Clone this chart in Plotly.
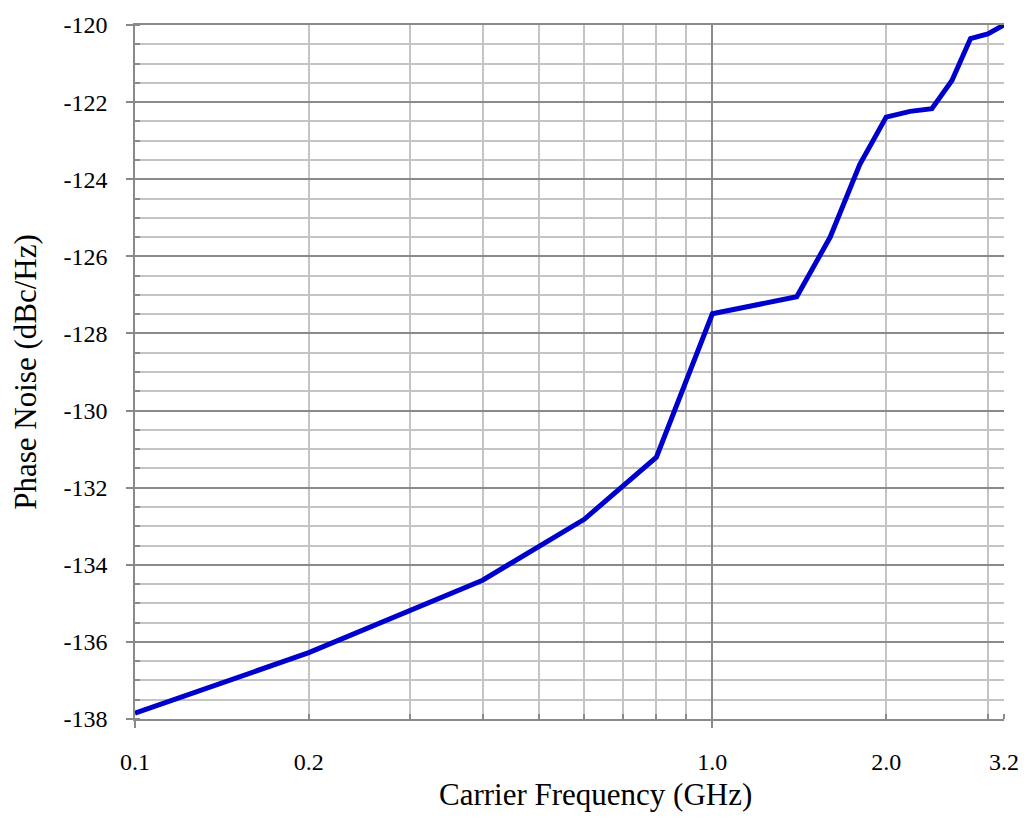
import math
import plotly.graph_objects as go

# Phase noise vs. carrier frequency
freq_ghz = [0.1, 0.2, 0.4, 0.6, 0.8, 1.0, 1.4, 1.6, 1.8, 2.0, 2.2, 2.4, 2.6, 2.8, 3.0, 3.2]
phase_noise = [-137.85, -136.28, -134.4, -132.82, -131.21, -127.49, -127.05, -125.5,
               -123.62, -122.39, -122.24, -122.17, -121.44, -120.35, -120.23, -120.0]

x_label_vals = [0.1, 0.2, 1.0, 2.0, 3.2]
x_label_text = ["0.1", "0.2", "1.0", "2.0", "3.2"]
x_minor_vals = [0.2, 0.3, 0.4, 0.5, 0.6, 0.7, 0.8, 0.9, 2.0, 3.0, 3.2]
y_tick_vals = [-138, -136, -134, -132, -130, -128, -126, -124, -122, -120]
y_tick_text = ["-138", "-136", "-134", "-132", "-130", "-128", "-126", "-124", "-122", "-120"]

FONT = "Liberation Serif, Times New Roman, serif"
DARK = "#8a8a8a"
LIGHT = "#c4c4c4"
x_range = [math.log10(0.1), math.log10(3.2)]

fig = go.Figure()
fig.add_trace(go.Scatter(
    x=freq_ghz, y=phase_noise, mode="lines",
    line=dict(color="#0000CC", width=5),
    showlegend=False, hoverinfo="x+y",
))
# carrier for the labelled overlay axis
fig.add_trace(go.Scatter(
    x=freq_ghz, y=phase_noise, mode="lines", xaxis="x2",
    line=dict(width=0), opacity=0, showlegend=False, hoverinfo="skip",
))

fig.update_layout(
    width=1031, height=823,
    margin=dict(l=135, r=25, t=23, b=104),
    paper_bgcolor="white", plot_bgcolor="white",
    font=dict(family=FONT, size=24, color="black"),
    xaxis=dict(
        type="log", range=x_range,
        tickvals=[0.1, 1.0], showticklabels=False,
        showgrid=True, gridcolor=DARK, gridwidth=1.5,
        ticks="outside", ticklen=7, tickcolor=DARK, tickwidth=1.5,
        showline=True, linecolor=DARK, linewidth=1.5, mirror=True,
        zeroline=False,
        minor=dict(tickvals=x_minor_vals, showgrid=True, gridcolor=LIGHT, gridwidth=1.5,
                   ticks="inside", ticklen=5, tickcolor=DARK, tickwidth=1.5),
    ),
    xaxis2=dict(
        type="log", range=x_range, overlaying="x", anchor="y", side="bottom",
        tickvals=x_label_vals, ticktext=x_label_text,
        showgrid=False, ticks="", showline=False, zeroline=False,
        ticklabelstandoff=26, tickfont=dict(size=24),
    ),
    yaxis=dict(
        range=[-138, -120], tickvals=y_tick_vals, ticktext=y_tick_text,
        showgrid=True, gridcolor=DARK, gridwidth=1.5,
        ticks="outside", ticklen=7, tickcolor=DARK, tickwidth=1.5,
        showline=True, linecolor=DARK, linewidth=1.5,
        zeroline=False, ticklabelstandoff=14,
        minor=dict(dtick=0.5, showgrid=True, gridcolor=LIGHT, gridwidth=1.5,
                   ticks="inside", ticklen=5, tickcolor=DARK, tickwidth=1.5),
        title=dict(text="Phase Noise (dBc/Hz)", font=dict(size=31), standoff=18),
    ),
    annotations=[dict(
        text="Carrier Frequency (GHz)", xref="paper", yref="paper",
        x=0.530, y=-0.109, xanchor="center", yanchor="middle",
        showarrow=False, font=dict(size=31),
    )],
)

fig.write_html("out.html")
